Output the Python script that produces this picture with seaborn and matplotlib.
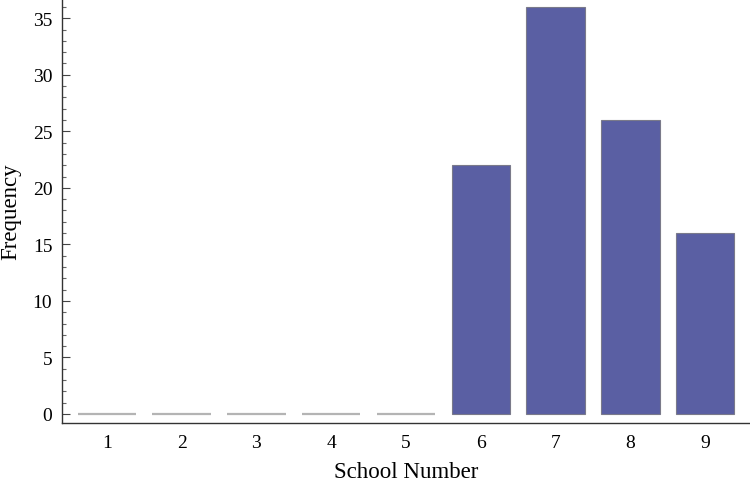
import matplotlib
matplotlib.use("Agg")
import matplotlib.pyplot as plt
import seaborn as sns
import pandas as pd
from matplotlib.ticker import MultipleLocator

schools = ["1", "2", "3", "4", "5", "6", "7", "8", "9"]
frequency = [0, 0, 0, 0, 0, 22, 36, 26, 16]

sns.set_theme(style="white")
plt.rcParams["font.family"] = ["Liberation Serif", "DejaVu Serif"]
plt.rcParams["text.color"] = "black"
plt.rcParams["axes.labelcolor"] = "black"
plt.rcParams["xtick.color"] = "black"
plt.rcParams["ytick.color"] = "black"

df = pd.DataFrame({"School Number": schools, "Frequency": frequency})

fig = plt.figure(figsize=(7.5, 4.89), dpi=100)
ax = fig.add_axes([62 / 750, 65 / 489, 1 - 62 / 750, 1 - 65 / 489])

sns.barplot(data=df, x="School Number", y="Frequency", color="#5a5fa3",
            saturation=1, width=0.78, edgecolor="#7a7a8a", linewidth=0.8, ax=ax)

for patch, val in zip(ax.patches, frequency):
    if val == 0:
        patch.set_edgecolor("#b4b4b4")
        patch.set_linewidth(1.6)

ax.set_xlim(-0.6, 8.6)
ax.set_ylim(-0.8, 36.7)
ax.yaxis.set_major_locator(MultipleLocator(5))
ax.yaxis.set_minor_locator(MultipleLocator(1))

for side in ["top", "right"]:
    ax.spines[side].set_visible(False)
for side in ["left", "bottom"]:
    ax.spines[side].set_color("#333333")
    ax.spines[side].set_linewidth(1.0)

ax.tick_params(axis="y", which="major", direction="in", length=6, width=0.8,
               color="#444444", labelcolor="black", labelsize=14, pad=7, left=True)
ax.tick_params(axis="y", which="minor", direction="in", length=3, width=0.8,
               color="#666666", left=True)
ax.tick_params(axis="x", which="both", length=0, labelsize=14, labelcolor="black", pad=8)

ax.set_xlabel("School Number", fontsize=16.5, labelpad=7, color="black")
ax.set_ylabel("Frequency", fontsize=16.5, labelpad=8, color="black")

fig.savefig("out.png", dpi=100)
